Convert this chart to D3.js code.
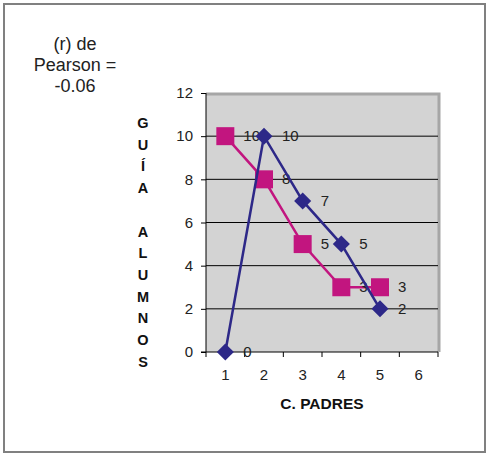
<!DOCTYPE html>
<html>
<head>
<meta charset="utf-8">
<script src="https://cdn.jsdelivr.net/npm/d3@7"></script>
<style>
  body { margin: 0; background: #fff; }
  text { font-family: "Liberation Sans", Arial, sans-serif; }
</style>
</head>
<body>
<svg width="491" height="456"></svg>
<script>
let categories = [1, 2, 3, 4, 5, 6]
let padresX = [1, 2, 3, 4, 5]
let guiaValues = [0, 10, 7, 5, 2]
let alumnosValues = [10, 8, 5, 3, 3]
let yTicks = [0, 2, 4, 6, 8, 10, 12]
let titleLines = ['(r) de', 'Pearson =', '-0.06']
let yTitleLetters = ['G', 'U', 'Í', 'A', '', 'A', 'L', 'U', 'M', 'N', 'O', 'S']

let svg = d3.select('svg')
let plotLeft = 206, plotRight = 438, plotTop = 93, plotBottom = 352

let xScale = d3.scaleBand().domain(categories).range([plotLeft, plotRight])
let yScale = d3.scaleLinear().domain([0, 12]).range([plotBottom, plotTop])
let cx = (d) => xScale(d) + xScale.bandwidth() / 2

// outer frame
svg.append('rect')
    .attr('x', 4).attr('y', 4).attr('width', 481).attr('height', 448)
    .attr('fill', 'none').attr('stroke', '#808080').attr('stroke-width', 2)

// plot area
svg.append('rect')
    .attr('x', plotLeft).attr('y', plotTop).attr('width', plotRight - plotLeft).attr('height', plotBottom - plotTop)
    .attr('fill', '#d3d3d3')
svg.append('path')
    .attr('d', `M${plotLeft},${plotTop + 1}H${plotRight + 1}V${plotBottom}`)
    .attr('fill', 'none').attr('stroke', '#a6a6a6').attr('stroke-width', 3)

// gridlines
svg.selectAll('.grid')
    .data(yTicks.filter(d => d > 0 && d < 12))
    .enter()
    .append('line')
    .attr('x1', plotLeft).attr('x2', plotRight)
    .attr('y1', d => yScale(d)).attr('y2', d => yScale(d))
    .attr('stroke', '#000').attr('stroke-width', 1)

// axes
let yAxis = d3.axisLeft(yScale).tickValues(yTicks).tickSize(5).tickPadding(8)
let yG = svg.append('g').attr('transform', `translate(${plotLeft},0)`).call(yAxis)
let xAxis = d3.axisBottom(xScale).tickSize(0).tickPadding(17)
let xG = svg.append('g').attr('transform', `translate(0,${plotBottom})`).call(xAxis)

// x-axis category separators
svg.selectAll('.xtick')
    .data(categories.concat([7]))
    .enter()
    .append('line')
    .attr('x1', (d, i) => plotLeft + i * xScale.bandwidth())
    .attr('x2', (d, i) => plotLeft + i * xScale.bandwidth())
    .attr('y1', plotBottom).attr('y2', plotBottom + 5)
    .attr('stroke', '#000')

;[yG, xG].forEach(g => {
    g.select('.domain').attr('stroke', '#000')
    g.selectAll('text').attr('font-size', 15).attr('fill', '#222')
        .style('font-family', '"Liberation Sans", Arial, sans-serif')
})
yG.select('.domain').attr('d', `M0,${plotTop}V${plotBottom}`)
xG.select('.domain').attr('d', `M${plotLeft - 5},0H${plotRight}`)

// series
let drawSeries = (values, color, shape) => {
    let pts = padresX.map((x, i) => [cx(x), yScale(values[i]), values[i]])
    svg.append('path')
        .datum(pts)
        .attr('d', d3.line())
        .attr('fill', 'none').attr('stroke', color).attr('stroke-width', 2.5)
    svg.selectAll('.m' + shape)
        .data(pts)
        .enter()
        .append('path')
        .attr('d', d3.symbol().type(shape === 'sq' ? d3.symbolSquare : d3.symbolDiamond2).size(shape === 'sq' ? 324 : 185))
        .attr('transform', d => `translate(${d[0]},${d[1]})`)
        .attr('fill', color)
    svg.selectAll('.l' + shape)
        .data(pts)
        .enter()
        .append('text')
        .attr('x', d => d[0] + 18)
        .attr('y', d => d[1] + 5)
        .attr('font-size', 15)
        .attr('fill', '#222')
        .text(d => d[2])
}
drawSeries(alumnosValues, '#c2157f', 'sq')
drawSeries(guiaValues, '#2d2888', 'di')

// title
svg.selectAll('.title')
    .data(titleLines)
    .enter()
    .append('text')
    .attr('x', 75)
    .attr('y', (d, i) => 50 + i * 21)
    .attr('text-anchor', 'middle')
    .attr('font-size', 18)
    .attr('fill', '#222')
    .text(d => d)

// y title
svg.selectAll('.ytitle')
    .data(yTitleLetters)
    .enter()
    .append('text')
    .attr('x', 143)
    .attr('y', (d, i) => 128 + i * 21.7)
    .attr('text-anchor', 'middle')
    .attr('font-size', 14.5)
    .attr('font-weight', 'bold')
    .attr('fill', '#111')
    .text(d => d)

// x title
svg.append('text')
    .attr('x', 322).attr('y', 409)
    .attr('text-anchor', 'middle')
    .attr('font-size', 15.5)
    .attr('font-weight', 'bold')
    .attr('fill', '#111')
    .text('C. PADRES')
</script>
</body>
</html>
